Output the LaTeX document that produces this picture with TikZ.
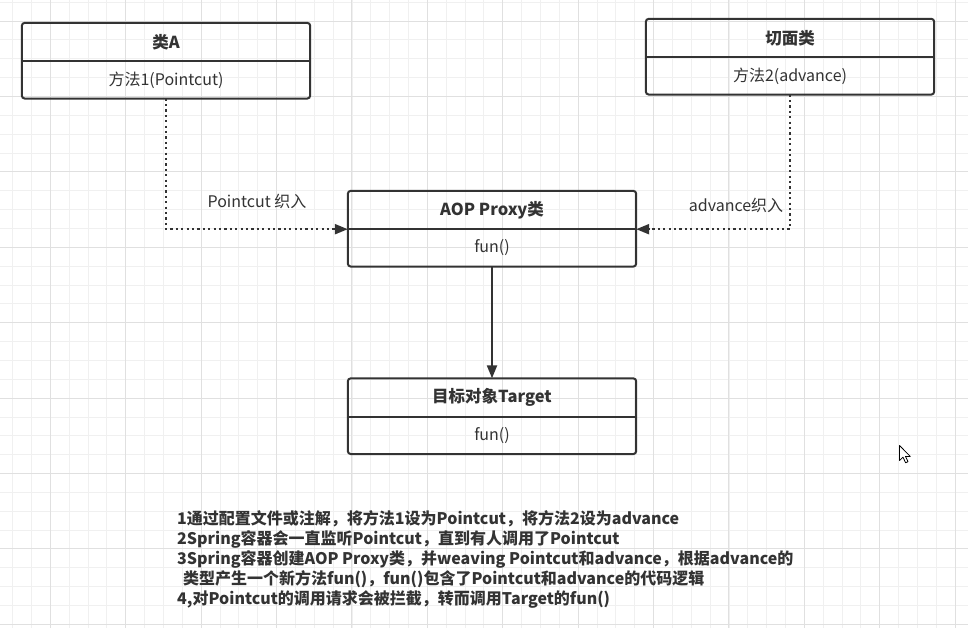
\documentclass[tikz,border=0pt]{standalone}
\usepackage{fontspec}
\usepackage{tikz}
\usetikzlibrary{arrows.meta,positioning}
\setmainfont{Noto Sans CJK SC}
\definecolor{ink}{HTML}{333333}
\definecolor{gridminor}{HTML}{F0F0F0}
\definecolor{gridmajor}{HTML}{E0E0E0}

\begin{document}
\begin{tikzpicture}[x=1pt,y=-1pt,
	head/.style={minimum width=288pt,minimum height=38pt,inner sep=0pt,text=ink,font=\bfseries\fontsize{16.5}{18}\selectfont},
	body/.style={minimum width=288pt,minimum height=37pt,inner sep=0pt,text=ink,font=\fontsize{16}{18}\selectfont},
	frame/.style={draw=ink,line width=2pt,rounded corners=3pt},
	dots/.style={draw=ink,line width=2.2pt,dash pattern=on 2.2pt off 3.2pt,-{Triangle[length=13pt,width=10pt]}},
	link/.style={draw=ink,line width=2.2pt,-{Triangle[length=13pt,width=10pt]}},
	lbl/.style={text=ink,inner sep=0pt,font=\fontsize{16}{18}\selectfont},
	note/.style={text=ink,inner sep=0pt,anchor=base west,font=\bfseries\fontsize{16}{18}\selectfont}]
	\useasboundingbox (0,0) rectangle (968,628);
	\clip (0,0) rectangle (968,628);
	\fill[white] (0,0) rectangle (968,628);
	\foreach \gx in {0,...,51}
		\draw[gridminor,line width=1pt] (12.7+18.85*\gx,0) -- ++(0,628);
	\foreach \gy in {0,...,33}
		\draw[gridminor,line width=1pt] (0,2.3+18.85*\gy) -- ++(968,0);
	\foreach \gx in {-1,...,12}
		\draw[gridmajor,line width=1pt] (50.3+75.4*\gx,0) -- ++(0,628);
	\foreach \gy in {0,...,8}
		\draw[gridmajor,line width=1pt] (0,21.1+75.4*\gy) -- ++(968,0);

	\node[head] (classa) at (166,42) {类A};
	\node[body,below=0pt of classa] (classafun) {方法1(Pointcut)};
	\draw[frame] (classa.north west) rectangle (classafun.south east);
	\draw[frame] (classa.south west) -- (classa.south east);

	\node[head] (aspect) at (790,38) {切面类};
	\node[body,below=0pt of aspect] (aspectfun) {方法2(advance)};
	\draw[frame] (aspect.north west) rectangle (aspectfun.south east);
	\draw[frame] (aspect.south west) -- (aspect.south east);

	\node[head] (proxy) at (492,210) {AOP Proxy类};
	\node[body,below=0pt of proxy] (proxyfun) {fun()};
	\draw[frame] (proxy.north west) rectangle (proxyfun.south east);
	\draw[frame] (proxy.south west) -- (proxy.south east);

	\node[head] (target) at (492,397.5) {目标对象Target};
	\node[body,below=0pt of target] (targetfun) {fun()};
	\draw[frame] (target.north west) rectangle (targetfun.south east);
	\draw[frame] (target.south west) -- (target.south east);

	\draw[dots] (classafun.south) |- (proxy.south west);
	\draw[dots] (aspectfun.south) |- (proxy.south east);
	\draw[link] (proxyfun.south) -- (target.north);
	\node[lbl] (pointcutin) at (257,201) {Pointcut 织入};
	\node[lbl] (advancein) at (736,205) {advance织入};

	\foreach \txt [count=\i] in {1通过配置文件或注解，将方法1设为Pointcut，将方法2设为advance,
		2Spring容器会一直监听Pointcut，直到有人调用了Pointcut,
		3Spring容器创建AOP Proxy类，并weaving Pointcut和advance，根据advance的,
		\hspace*{6pt}类型产生一个新方法fun()，fun()包含了Pointcut和advance的代码逻辑,
		{4,对Pointcut的调用请求会被拦截，转而调用Target的fun()}}
		\node[note] (line\i) at (177,505+19.9*\i) {\txt};

	\draw[fill=white,line width=0.8pt,line join=round] (899.5,445.5) -- ++(0,15) -- ++(3.5,-3.3) -- ++(2.6,5.6) -- ++(2.4,-1.1) -- ++(-2.5,-5.3) -- ++(4.7,0) -- cycle;
\end{tikzpicture}
\end{document}
